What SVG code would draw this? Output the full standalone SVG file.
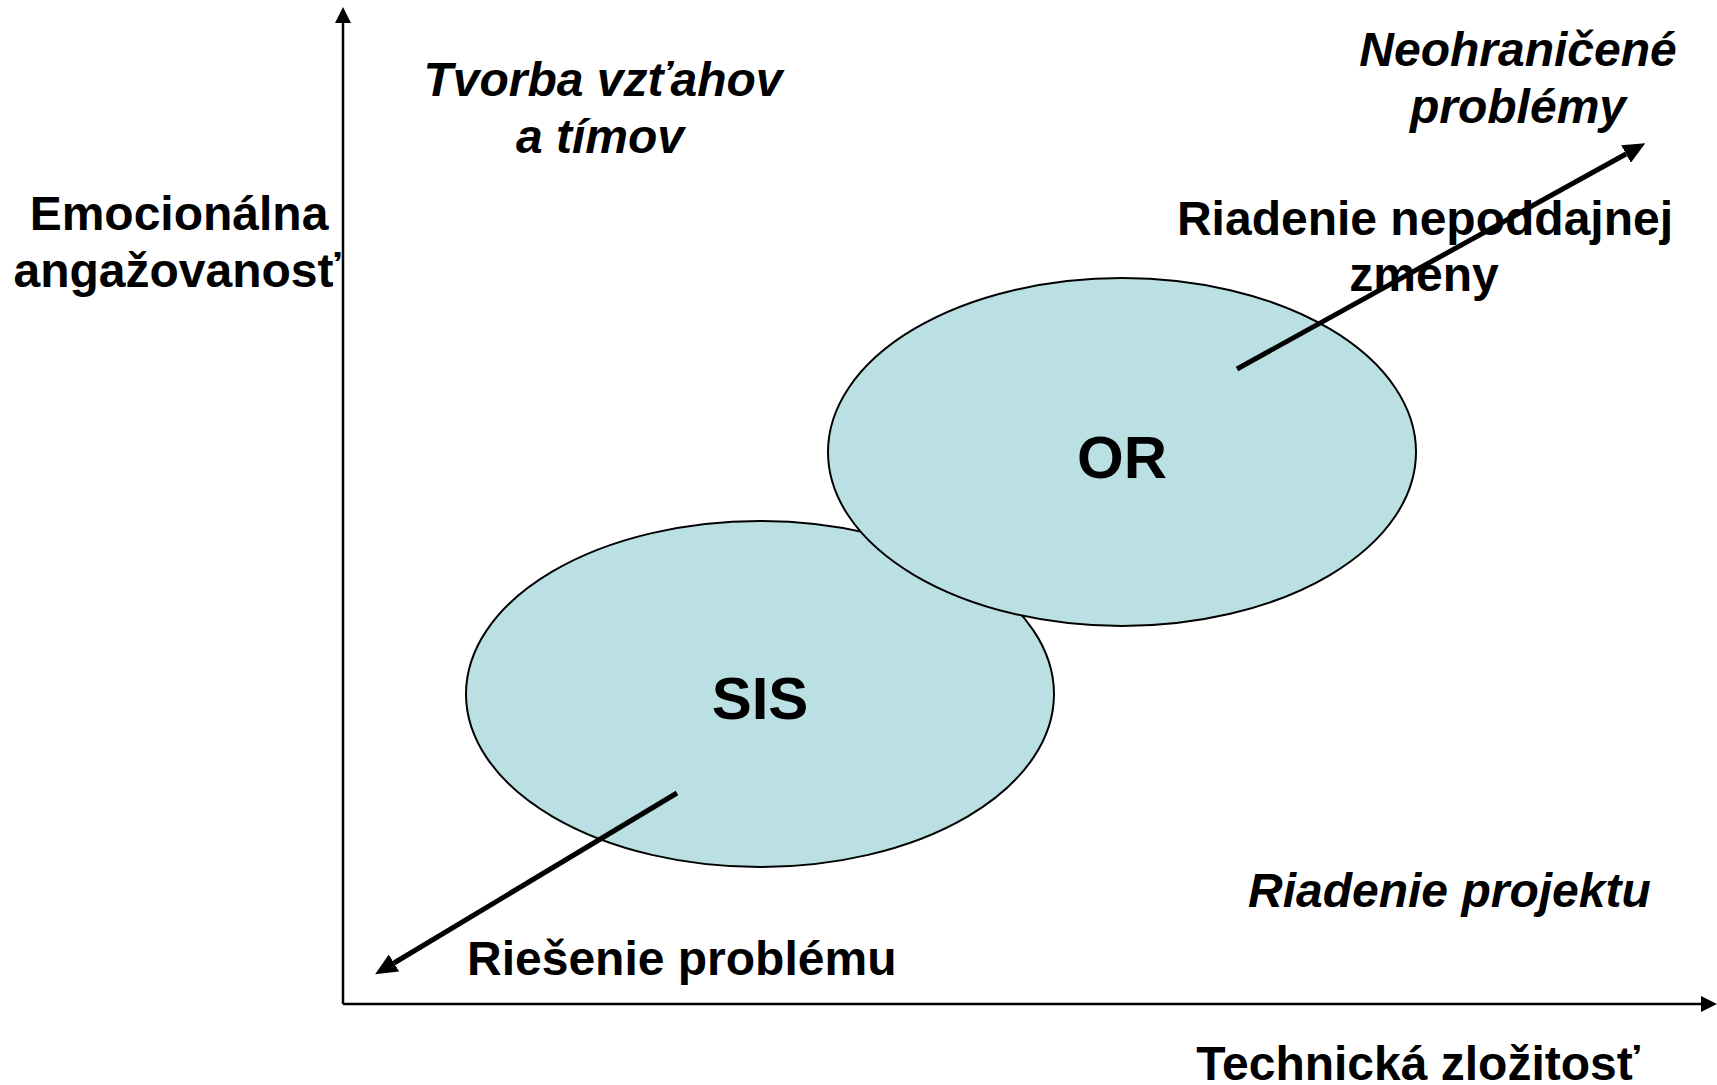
<svg xmlns="http://www.w3.org/2000/svg" width="1717" height="1085" viewBox="0 0 1717 1085">
<style>
.t{font-family:"Liberation Sans",Arial,sans-serif;font-weight:bold;font-size:48px;fill:#000}
.i{font-style:italic}
.big{font-size:60px}
.ell{fill:#BBE0E3;stroke:#000;stroke-width:2}
.axis{stroke:#000;stroke-width:2.5;fill:none}
.arr{stroke:#000;stroke-width:5;fill:none}
</style>
<defs>
<marker id="ah" markerUnits="userSpaceOnUse" viewBox="0 0 16 16" refX="0" refY="8" markerWidth="16" markerHeight="16" orient="auto">
<path d="M0,0 L16,8 L0,16 z" fill="#000"/>
</marker>
<marker id="ah2" markerUnits="userSpaceOnUse" viewBox="0 0 22 20" refX="0" refY="10" markerWidth="22" markerHeight="20" orient="auto">
<path d="M0,0 L22,10 L0,20 z" fill="#000"/>
</marker>
</defs>
<rect width="1717" height="1085" fill="#fff"/>
<g id="axes">
<line class="axis" x1="343" y1="1004" x2="343" y2="23" marker-end="url(#ah)"/>
<line class="axis" x1="343" y1="1004" x2="1701" y2="1004" marker-end="url(#ah)"/>
</g>
<g id="node-sis">
<ellipse class="ell" cx="760" cy="694" rx="294" ry="173"/>
<text class="t big" x="760" y="719" text-anchor="middle">SIS</text>
</g>
<g id="node-or">
<ellipse class="ell" cx="1122" cy="452" rx="294" ry="174"/>
<text class="t big" x="1122" y="478" text-anchor="middle">OR</text>
</g>
<g id="labels">
<text class="t" text-anchor="middle"><tspan x="179" y="230">Emocionálna</tspan><tspan x="177" y="287">angažovanosť</tspan></text>
<text class="t i" text-anchor="middle"><tspan x="603" y="96">Tvorba vzťahov</tspan><tspan x="600" y="153">a tímov</tspan></text>
<text class="t i" text-anchor="middle"><tspan x="1518" y="66">Neohraničené</tspan><tspan x="1518" y="123">problémy</tspan></text>
<text class="t" text-anchor="middle"><tspan x="1425" y="235">Riadenie nepoddajnej</tspan><tspan x="1424" y="291">zmeny</tspan></text>
<text class="t" x="467" y="975">Riešenie problému</text>
<text class="t i" x="1248" y="907">Riadenie projektu</text>
<text class="t" x="1418" y="1080" text-anchor="middle">Technická zložitosť</text>
</g>
<g id="connectors">
<line class="arr" x1="1237" y1="369" x2="1626" y2="154" marker-end="url(#ah2)"/>
<line class="arr" x1="677" y1="793" x2="394" y2="963" marker-end="url(#ah2)"/>
</g>
</svg>
